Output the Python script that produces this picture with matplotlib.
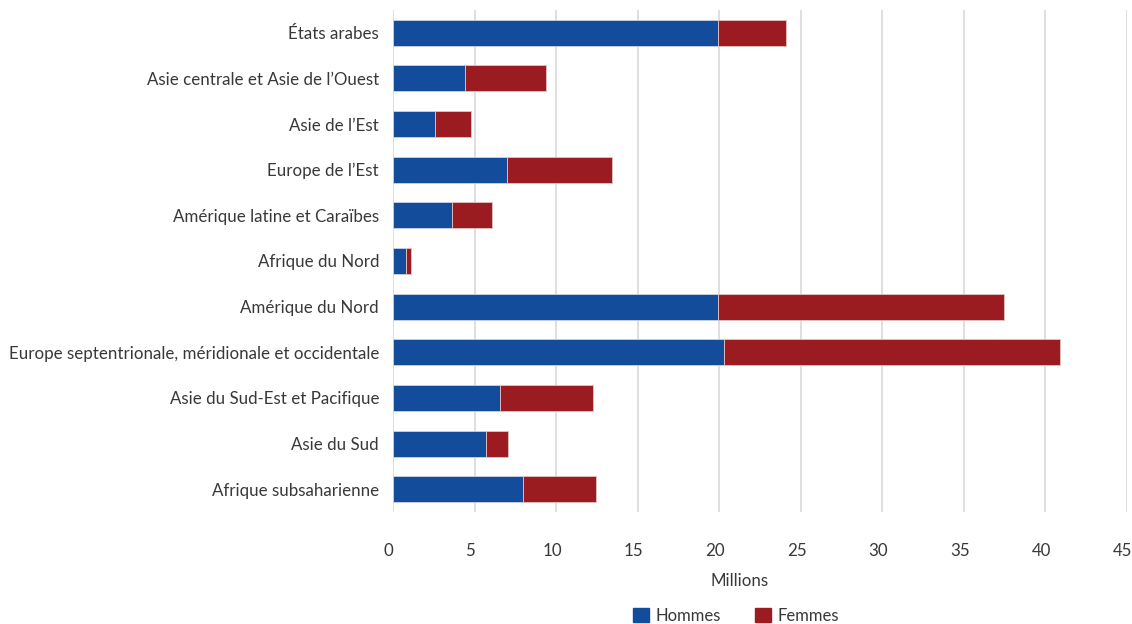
import matplotlib
matplotlib.use("Agg")
import matplotlib.pyplot as plt
import matplotlib.transforms as mtransforms
from matplotlib.patches import Patch

plt.rcParams['font.family'] = ['Lato', 'DejaVu Sans']

regions = ["États arabes", "Asie centrale et Asie de l’Ouest", "Asie de l’Est",
           "Europe de l’Est", "Amérique latine et Caraïbes", "Afrique du Nord",
           "Amérique du Nord", "Europe septentrionale, méridionale et occidentale",
           "Asie du Sud-Est et Pacifique", "Asie du Sud", "Afrique subsaharienne"]
hommes = [19.9, 4.4, 2.6, 7.0, 3.6, 0.77, 19.9, 20.3, 6.55, 5.73, 8.0]
femmes = [4.2, 4.95, 2.2, 6.4, 2.45, 0.31, 17.55, 20.6, 5.7, 1.34, 4.44]
xticks = [0, 5, 10, 15, 20, 25, 30, 35, 40, 45]

blue = "#134C9A"
red = "#9A1C20"
txt = "#383838"

fig = plt.figure(figsize=(11.32, 6.24), dpi=100)
ax = fig.add_axes([393/1132, 1-512/624, (1127-393)/1132, (512-10)/624])

y = list(range(len(regions)))
ax.barh(y, hommes, height=0.57, color=blue, edgecolor="#c9d3e6", linewidth=0.6, zorder=3)
ax.barh(y, femmes, left=hommes, height=0.57, color=red, edgecolor="#e3c3c4", linewidth=0.6, zorder=3)

ax.set_xlim(0, 45)
ax.set_ylim(len(regions) - 0.5, -0.5)
ax.set_yticks(y)
ax.set_yticklabels(regions, fontsize=12.2, color=txt)
ax.set_xticks(xticks)
ax.set_xticklabels([str(t) for t in xticks], fontsize=12.2, color=txt)
ax.tick_params(axis='y', length=0, pad=10)
ax.tick_params(axis='x', length=0, pad=22)
offset = mtransforms.ScaledTranslation(-3/72, 0, fig.dpi_scale_trans)
for lbl in ax.get_xticklabels():
    lbl.set_transform(lbl.get_transform() + offset)
ax.grid(axis='x', color="#d9d9d9", linewidth=1.2, zorder=0)
for s in ax.spines.values():
    s.set_visible(False)

fig.text(740/1132, 1-581/624, "Millions", ha='center', va='center', fontsize=12.2, color=txt)
handles = [Patch(color=blue, label="Hommes"), Patch(color=red, label="Femmes")]
fig.legend(handles=handles, loc='center', bbox_to_anchor=(736/1132, 1-616/624), ncol=2,
           frameon=False, fontsize=12, handlelength=0.95, handleheight=0.95,
           handletextpad=0.35, columnspacing=2.1, labelcolor=txt)

fig.savefig("out.png", dpi=100)
